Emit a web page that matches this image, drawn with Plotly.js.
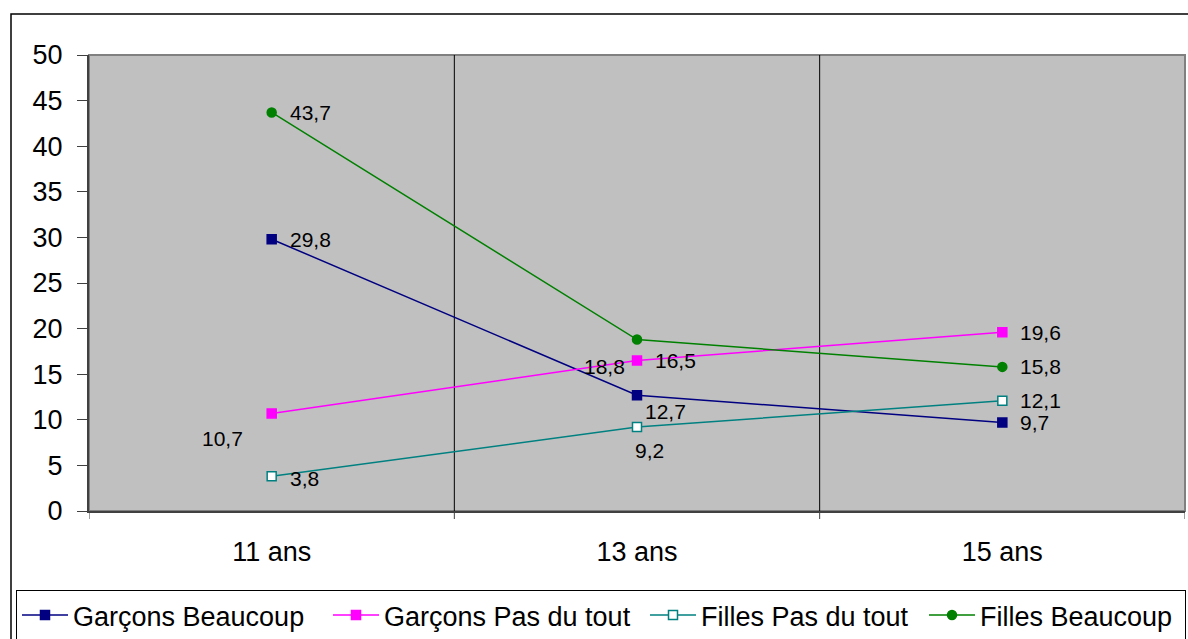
<!DOCTYPE html>
<html>
<head>
<meta charset="utf-8">
<script src="https://cdn.plot.ly/plotly-3.0.1.min.js"></script>
<style>
html,body{margin:0;padding:0;background:#fff;}
#chart{width:1188px;height:639px;}
</style>
</head>
<body>
<div id="chart"></div>
<script>
// ---- data ----
const categories = ["11 ans", "13 ans", "15 ans"];
const garconsBeaucoup = [29.8, 12.7, 9.7];
const garconsPasDuTout = [10.7, 16.5, 19.6];
const fillesPasDuTout = [3.8, 9.2, 12.1];
const fillesBeaucoup = [43.7, 18.8, 15.8];
const seriesNames = ["Garçons Beaucoup", "Garçons Pas du tout", "Filles Pas du tout", "Filles Beaucoup"];
const yTickValues = [0, 5, 10, 15, 20, 25, 30, 35, 40, 45, 50];

// ---- styles ----
const FONT = "Liberation Sans, Arial, sans-serif";
const seriesStyles = [
  {color: "#000080", symbol: "square", fill: "#000080", legendwidth: 250},
  {color: "#FF00FF", symbol: "square", fill: "#FF00FF", legendwidth: 256},
  {color: "#008080", symbol: "square", fill: "#FFFFFF", legendwidth: 218},
  {color: "#008000", symbol: "circle", fill: "#008000", legendwidth: 200}
];
// label pixel offsets per series, per category [dx, dy(px, down positive), anchor]
const labelOffsets = [
  [[16, 0, "left"], [28, 16, "center"], [16, 0, "left"]],
  [[-49, 25, "center"], [16, 0, "left"], [16, 0, "left"]],
  [[16, 2, "left"], [12, 23, "center"], [16, 0, "left"]],
  [[16, 0, "left"], [-33, 27, "center"], [16, 0, "left"]]
];

const allSeries = [garconsBeaucoup, garconsPasDuTout, fillesPasDuTout, fillesBeaucoup];
const xIdx = categories.map((c, i) => i);

const traces = allSeries.map((vals, s) => ({
  type: "scatter",
  mode: "lines+markers",
  name: seriesNames[s],
  x: xIdx,
  y: vals,
  legendwidth: seriesStyles[s].legendwidth,
  line: {color: seriesStyles[s].color, width: 1.5},
  marker: {symbol: seriesStyles[s].symbol, size: 9, color: seriesStyles[s].fill,
           line: {color: seriesStyles[s].color, width: 1.5}},
  hoverinfo: "x+y"
}));

const annotations = [];
allSeries.forEach((vals, s) => {
  vals.forEach((v, i) => {
    const o = labelOffsets[s][i];
    annotations.push({
      x: xIdx[i], y: v, xref: "x", yref: "y",
      text: String(v).replace(".", ","),
      showarrow: false,
      xanchor: o[2], yanchor: "middle",
      xshift: o[0], yshift: -o[1],
      font: {family: FONT, size: 21, color: "#000"}
    });
  });
});

const W = 1188, H = 639;
const L = 89, R = 3, T = 55, B = 128;
const pw = W - L - R, ph = H - T - B;
const px = (p) => (p - L) / pw;          // pixel x -> paper
const py = (p) => (H - B - p) / ph;      // pixel y -> paper

const layout = {
  width: W, height: H,
  margin: {l: L, r: R, t: T, b: B, pad: 0, autoexpand: false},
  paper_bgcolor: "#FFFFFF",
  plot_bgcolor: "#C0C0C0",
  font: {family: FONT, size: 27, color: "#000"},
  showlegend: true,
  xaxis: {
    type: "linear",
    range: [-0.5, 2.5],
    tickmode: "array",
    tickvals: xIdx,
    ticktext: categories,
    ticks: "",
    showgrid: false,
    zeroline: false,
    showline: true, linecolor: "#404040", linewidth: 2,
    tickfont: {family: FONT, size: 27, color: "#000"},
    ticklabelstandoff: 16,
    fixedrange: true
  },
  yaxis: {
    range: [0, 50],
    tickmode: "array",
    tickvals: yTickValues,
    ticks: "outside", ticklen: 10, tickwidth: 1, tickcolor: "#404040",
    showgrid: false,
    zeroline: false,
    showline: true, linecolor: "#404040", linewidth: 2,
    tickfont: {family: FONT, size: 27, color: "#000"},
    ticklabelstandoff: 9,
    fixedrange: true
  },
  legend: {
    orientation: "h",
    x: px(16), y: py(590), xanchor: "left", yanchor: "top",
    bgcolor: "#FFFFFF", bordercolor: "#000000", borderwidth: 1,
    font: {family: FONT, size: 27, color: "#000"},
    itemwidth: 46,
    itemclick: false, itemdoubleclick: false,
    tracegroupgap: 0
  },
  shapes: [
    // outer chart border
    {type: "rect", xref: "paper", yref: "paper", x0: px(11), x1: px(1200), y0: py(700), y1: py(14),
     line: {color: "#000000", width: 1.5}, fillcolor: "rgba(0,0,0,0)", layer: "below"},
    // plot area border (top/right gray)
    {type: "rect", xref: "paper", yref: "paper", x0: 0, x1: 1, y0: 0, y1: 1,
     line: {color: "#808080", width: 2}, fillcolor: "rgba(0,0,0,0)", layer: "below"},
    // category boundary lines
    ...[0.5, 1.5].map(b => ({type: "line", xref: "x", yref: "paper", x0: b, x1: b, y0: 0, y1: 1,
      line: {color: "#000000", width: 1}, layer: "below"})),
    // x tick marks at boundaries
    ...[-0.5, 0.5, 1.5, 2.5].map(b => ({type: "line", xref: "x", yref: "paper", x0: b, x1: b,
      y0: 0, y1: -8 / ph, line: {color: "#404040", width: 1}}))
  ],
  annotations: annotations
};

Plotly.newPlot("chart", traces, layout, {displayModeBar: false, staticPlot: true});
</script>
</body>
</html>
